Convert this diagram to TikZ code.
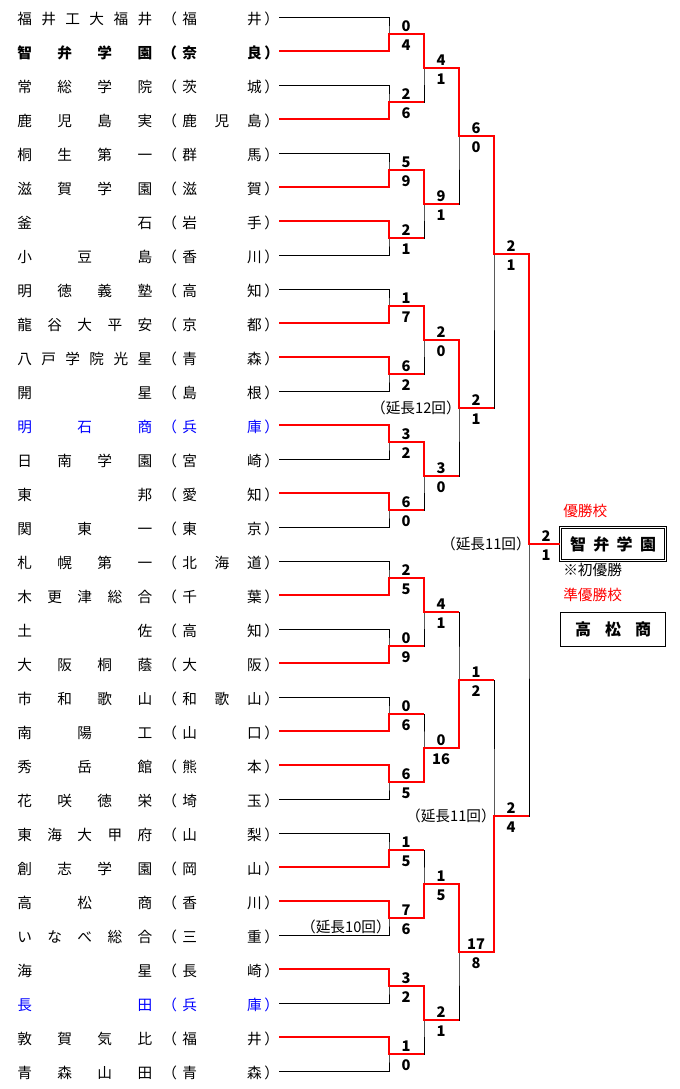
\documentclass[tikz,border=0pt]{standalone}
\usepackage{fontspec}
\setmainfont{Noto Sans CJK JP}
\usepackage{tikz}
\usetikzlibrary{positioning,calc}

\definecolor{winred}{RGB}{255,0,0}
\definecolor{hyogoblue}{RGB}{0,0,255}

% spread the letters of a name over a fixed width
\def\gobbleone#1{}
\def\spreadloop#1#2{#1\ifx\relax#2\expandafter\gobbleone\else\hfill\expandafter\spreadloop\fi#2}
\newcommand{\spreadname}[2]{\makebox[#1][s]{\spreadloop#2\relax}}
\newcommand{\entry}[2]{\spreadname{101.25pt}{#1}\hspace{7.5pt}（\hspace{4pt}\spreadname{59.6pt}{#2}\hspace{2pt}）\hspace{2.5pt}}
% two scores right of a match point
\newcommand{\scores}[3]{%
  \node[score,anchor=base] at ($(#1)+(17,-2.3)$) {#2};
  \node[score,anchor=north] at ($(#1)+(17,5.3)$) {#3};}

\begin{document}
\begin{tikzpicture}[x=0.75pt,y=-0.75pt,
  team/.style={anchor=west,inner sep=0pt,text height=11.5pt,text depth=0.8pt,font=\fontsize{11}{13}\selectfont},
  score/.style={inner sep=0pt,font=\fontsize{11}{13}\selectfont\bfseries},
  extra/.style={anchor=east,inner sep=0pt,font=\fontsize{11}{13}\selectfont},
  note/.style={anchor=west,inner sep=0pt,font=\fontsize{11}{13}\selectfont},
  bracketline/.style={draw=black,line width=0.75pt},
  winline/.style={draw=winred,line width=1.5pt},
  champbox/.style={draw,double,line width=0.75pt,double distance=0.75pt,minimum width=78.75pt,minimum height=24.75pt,inner sep=0pt,font=\fontsize{12}{14}\selectfont\bfseries},
  runnerbox/.style={draw,line width=0.75pt,minimum width=78.75pt,minimum height=25.5pt,inner sep=0pt,font=\fontsize{12}{14}\selectfont\bfseries}]
\useasboundingbox (0,0) rectangle (680,1089);

% teams
\node[team] (fukuikodai) at (17,17) {\entry{福井工大福井}{福井}};
\node[team] (chiben) at (17,51) {\bfseries\entry{智弁学園}{奈良}};
\node[team] (joso) at (17,85) {\entry{常総学院}{茨城}};
\node[team] (kagojitsu) at (17,119) {\entry{鹿児島実}{鹿児島}};
\node[team] (kiryu) at (17,153) {\entry{桐生第一}{群馬}};
\node[team] (shiga) at (17,187) {\entry{滋賀学園}{滋賀}};
\node[team] (kamaishi) at (17,221) {\entry{釜石}{岩手}};
\node[team] (shodoshima) at (17,255) {\entry{小豆島}{香川}};
\node[team] (meitoku) at (17,289) {\entry{明徳義塾}{高知}};
\node[team] (heian) at (17,323) {\entry{龍谷大平安}{京都}};
\node[team] (kosei) at (17,357) {\entry{八戸学院光星}{青森}};
\node[team] (kaiseiS) at (17,391) {\entry{開星}{島根}};
\node[team,text=hyogoblue] (akashi) at (17,425) {\entry{明石商}{兵庫}};
\node[team] (nichinan) at (17,459) {\entry{日南学園}{宮崎}};
\node[team] (toho) at (17,493) {\entry{東邦}{愛知}};
\node[team] (kanto) at (17,527) {\entry{関東一}{東京}};
\node[team] (sapporo) at (17,561) {\entry{札幌第一}{北海道}};
\node[team] (kisarazu) at (17,595) {\entry{木更津総合}{千葉}};
\node[team] (tosa) at (17,629) {\entry{土佐}{高知}};
\node[team] (toin) at (17,663) {\entry{大阪桐蔭}{大阪}};
\node[team] (ichiwaka) at (17,697) {\entry{市和歌山}{和歌山}};
\node[team] (nanyo) at (17,731) {\entry{南陽工}{山口}};
\node[team] (shugakukan) at (17,765) {\entry{秀岳館}{熊本}};
\node[team] (hanasaki) at (17,799) {\entry{花咲徳栄}{埼玉}};
\node[team] (tokaikofu) at (17,833) {\entry{東海大甲府}{山梨}};
\node[team] (soshi) at (17,867) {\entry{創志学園}{岡山}};
\node[team] (takamatsu) at (17,901) {\entry{高松商}{香川}};
\node[team] (inabe) at (17,935) {\entry{いなべ総合}{三重}};
\node[team] (kaiseiN) at (17,969) {\entry{海星}{長崎}};
\node[team,text=hyogoblue] (nagata) at (17,1003) {\entry{長田}{兵庫}};
\node[team] (tsuruga) at (17,1037) {\entry{敦賀気比}{福井}};
\node[team] (aomori) at (17,1071) {\entry{青森山田}{青森}};

% match points
\coordinate (m1) at (389,34);   \coordinate (m2) at (389,102);
\coordinate (m3) at (389,170);  \coordinate (m4) at (389,238);
\coordinate (m5) at (389,306);  \coordinate (m6) at (389,374);
\coordinate (m7) at (389,442);  \coordinate (m8) at (389,510);
\coordinate (m9) at (389,578);  \coordinate (m10) at (389,646);
\coordinate (m11) at (389,714); \coordinate (m12) at (389,782);
\coordinate (m13) at (389,850); \coordinate (m14) at (389,918);
\coordinate (m15) at (389,986); \coordinate (m16) at (389,1054);
\coordinate (n1) at (424,68);   \coordinate (n2) at (424,204);
\coordinate (n3) at (424,340);  \coordinate (n4) at (424,476);
\coordinate (n5) at (424,612);  \coordinate (n6) at (424,748);
\coordinate (n7) at (424,884);  \coordinate (n8) at (424,1020);
\coordinate (qf1) at (459,136); \coordinate (qf2) at (459,408);
\coordinate (qf3) at (459,680); \coordinate (qf4) at (459,952);
\coordinate (sf1) at (494,254); \coordinate (sf2) at (494,816);
\coordinate (final) at (529,544);

% winner and runner-up
\node[champbox] (champ) at (613,544) {\spreadname{64.5pt}{智弁学園}};
\node[runnerbox] (runnerup) at (613,629.5) {\spreadname{57pt}{高松商}};
\node[note,text=winred] (yusho) at (563,511) {優勝校};
\node[note] (hatsu) at (563,570) {※初優勝};
\node[note,text=winred] (junyusho) at (563,595) {準優勝校};

% bracket
\draw[bracketline] (fukuikodai.east) -| (m1) |- (chiben.east);
\draw[bracketline] (joso.east) -| (m2) |- (kagojitsu.east);
\draw[bracketline] (kiryu.east) -| (m3) |- (shiga.east);
\draw[bracketline] (kamaishi.east) -| (m4) |- (shodoshima.east);
\draw[bracketline] (meitoku.east) -| (m5) |- (heian.east);
\draw[bracketline] (kosei.east) -| (m6) |- (kaiseiS.east);
\draw[bracketline] (akashi.east) -| (m7) |- (nichinan.east);
\draw[bracketline] (toho.east) -| (m8) |- (kanto.east);
\draw[bracketline] (sapporo.east) -| (m9) |- (kisarazu.east);
\draw[bracketline] (tosa.east) -| (m10) |- (toin.east);
\draw[bracketline] (ichiwaka.east) -| (m11) |- (nanyo.east);
\draw[bracketline] (shugakukan.east) -| (m12) |- (hanasaki.east);
\draw[bracketline] (tokaikofu.east) -| (m13) |- (soshi.east);
\draw[bracketline] (takamatsu.east) -| (m14) |- (inabe.east);
\draw[bracketline] (kaiseiN.east) -| (m15) |- (nagata.east);
\draw[bracketline] (tsuruga.east) -| (m16) |- (aomori.east);
\draw[bracketline] (m1) -| (n1) |- (m2);
\draw[bracketline] (m3) -| (n2) |- (m4);
\draw[bracketline] (m5) -| (n3) |- (m6);
\draw[bracketline] (m7) -| (n4) |- (m8);
\draw[bracketline] (m9) -| (n5) |- (m10);
\draw[bracketline] (m11) -| (n6) |- (m12);
\draw[bracketline] (m13) -| (n7) |- (m14);
\draw[bracketline] (m15) -| (n8) |- (m16);
\draw[bracketline] (n1) -| (qf1) |- (n2);
\draw[bracketline] (n3) -| (qf2) |- (n4);
\draw[bracketline] (n5) -| (qf3) |- (n6);
\draw[bracketline] (n7) -| (qf4) |- (n8);
\draw[bracketline] (qf1) -| (sf1) |- (qf2);
\draw[bracketline] (qf3) -| (sf2) |- (qf4);
\draw[bracketline] (sf1) -| (final) |- (sf2);

% winning runs
\draw[winline] (chiben.east) -| (m1) -| (n1) -| (qf1) -| (sf1) -| (final) -- (champ.west);
\draw[winline] (kagojitsu.east) -| (m2) -- (m2 -| n1);
\draw[winline] (shiga.east) -| (m3) -| (n2) -- (n2 -| qf1);
\draw[winline] (kamaishi.east) -| (m4) -- (m4 -| n2);
\draw[winline] (heian.east) -| (m5) -| (n3) -| (qf2) -- (qf2 -| sf1);
\draw[winline] (kosei.east) -| (m6) -- (m6 -| n3);
\draw[winline] (akashi.east) -| (m7) -| (n4) -- (n4 -| qf2);
\draw[winline] (toho.east) -| (m8) -- (m8 -| n4);
\draw[winline] (kisarazu.east) -| (m9) -| (n5) -- (n5 -| qf3);
\draw[winline] (toin.east) -| (m10) -- (m10 -| n5);
\draw[winline] (nanyo.east) -| (m11) -- (m11 -| n6);
\draw[winline] (shugakukan.east) -| (m12) -| (n6) -| (qf3) -- (qf3 -| sf2);
\draw[winline] (soshi.east) -| (m13) -- (m13 -| n7);
\draw[winline] (takamatsu.east) -| (m14) -| (n7) -| (qf4) -| (sf2) -- (sf2 -| final);
\draw[winline] (kaiseiN.east) -| (m15) -| (n8) -- (n8 -| qf4);
\draw[winline] (tsuruga.east) -| (m16) -- (m16 -| n8);

% scores
\scores{m1}{0}{4}   \scores{m2}{2}{6}   \scores{m3}{5}{9}   \scores{m4}{2}{1}
\scores{m5}{1}{7}   \scores{m6}{6}{2}   \scores{m7}{3}{2}   \scores{m8}{6}{0}
\scores{m9}{2}{5}   \scores{m10}{0}{9}  \scores{m11}{0}{6}  \scores{m12}{6}{5}
\scores{m13}{1}{5}  \scores{m14}{7}{6}  \scores{m15}{3}{2}  \scores{m16}{1}{0}
\scores{n1}{4}{1}   \scores{n2}{9}{1}   \scores{n3}{2}{0}   \scores{n4}{3}{0}
\scores{n5}{4}{1}   \scores{n6}{0}{16}  \scores{n7}{1}{5}   \scores{n8}{2}{1}
\scores{qf1}{6}{0}  \scores{qf2}{2}{1}  \scores{qf3}{1}{2}  \scores{qf4}{17}{8}
\scores{sf1}{2}{1}  \scores{sf2}{2}{4}
\scores{final}{2}{1}

% extra innings
\node[extra] (ext12) at (461,408) {（延長12回）};
\node[extra] (ext11f) at (531,544) {（延長11回）};
\node[extra] (ext11s) at (496,816) {（延長11回）};
\node[extra] (ext10) at (391,927) {（延長10回）};
\end{tikzpicture}
\end{document}
